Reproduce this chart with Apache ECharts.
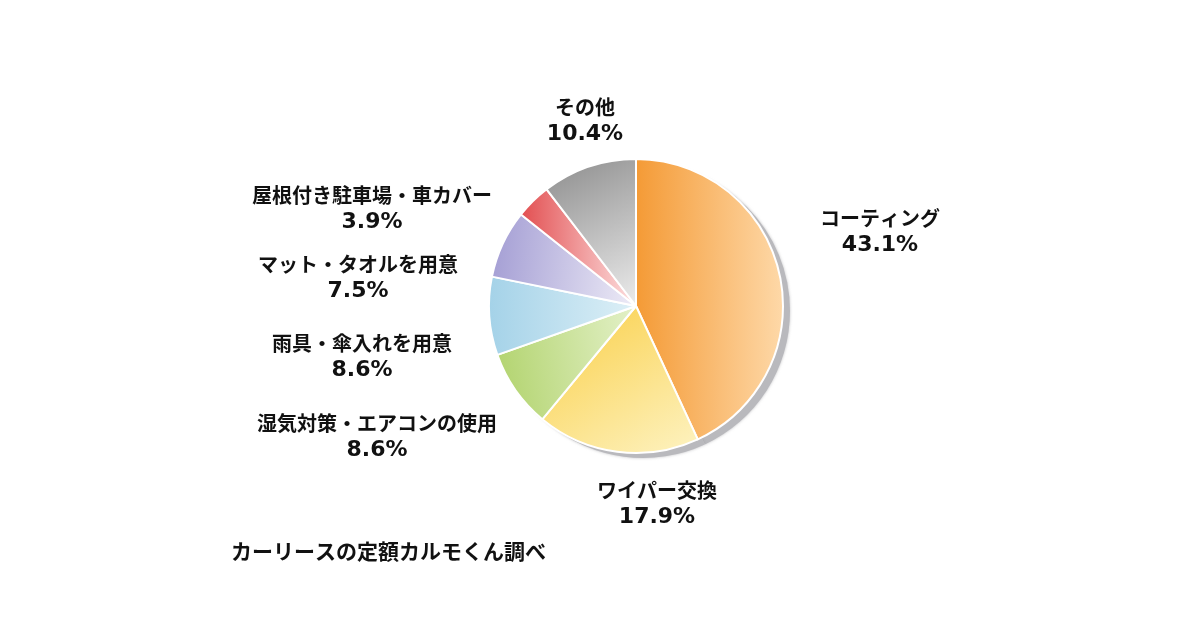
<!DOCTYPE html>
<html>
<head>
<meta charset="utf-8">
<script src="https://cdn.jsdelivr.net/npm/echarts@6/dist/echarts.min.js"></script>
<style>html,body{margin:0;padding:0;background:#fff;}#c{width:1200px;height:641px;}</style>
</head>
<body>
<div id="c"></div>
<script>
const categories = ['コーティング','ワイパー交換','湿気対策・エアコンの使用','雨具・傘入れを用意','マット・タオルを用意','屋根付き駐車場・車カバー','その他'];
const values = [43.1, 17.9, 8.6, 8.6, 7.5, 3.9, 10.4];
const sourceText = 'カーリースの定額カルモくん調べ';

const gradStops = [
  ['#f49a35', '#fed9a9', 0, 0.5, 1, 0.5],
  ['#fad14f', '#fdf0b8', 0.2, 0, 0.8, 1],
  ['#b3d470', '#e2f0c6', 0, 0.5, 1, 0.3],
  ['#a4d2e8', '#def0f7', 0, 0.5, 1, 0.5],
  ['#a49ed4', '#eceaf6', 0, 0.4, 1, 0.6],
  ['#e24e50', '#fde2e2', 0, 0.5, 1, 0.5],
  ['#8c8c8c', '#e8e8e8', 0, 0, 0.8, 1]
];
const labelPos = [
  [880, 232], [657, 504], [377, 437], [362, 357], [358, 278], [372, 209], [585, 121]
];

const chart = echarts.init(document.getElementById('c'));
chart.setOption({
  backgroundColor: '#fff',
  title: {
    text: sourceText, left: 226, top: 536,
    textStyle: {fontFamily: 'Noto Sans CJK JP', fontWeight: 'bold', fontSize: 21, color: '#111'}
  },
  series: [{
    type: 'pie',
    name: 'shadow',
    center: [643, 311],
    radius: [0, 147],
    startAngle: 90,
    clockwise: true,
    animation: false,
    silent: true,
    z: 1,
    data: categories.map((n, i) => ({name: n, value: values[i]})),
    itemStyle: {color: '#b9b9bd', borderWidth: 0, shadowColor: 'rgba(150,150,155,0.6)', shadowBlur: 3},
    label: {show: false},
    labelLine: {show: false},
    emphasis: {disabled: true}
  }, {
    type: 'pie',
    center: [636, 306],
    radius: [0, 147],
    startAngle: 90,
    clockwise: true,
    animation: false,
    z: 2,
    data: categories.map((n, i) => ({
      name: n, value: values[i],
      itemStyle: {
        color: new echarts.graphic.LinearGradient(gradStops[i][2], gradStops[i][3], gradStops[i][4], gradStops[i][5], [
          {offset: 0, color: gradStops[i][0]}, {offset: 1, color: gradStops[i][1]}
        ])
      }
    })),
    itemStyle: {borderColor: '#fff', borderWidth: 2},
    label: {
      show: true, position: 'outside',
      formatter: p => '{n|' + p.name + '}\n{p|' + p.value.toFixed(1) + '%}',
      color: '#111', align: 'center',
      rich: {
        n: {fontFamily: 'Noto Sans CJK JP', fontWeight: 'bold', fontSize: 20, lineHeight: 27, color: '#111', align: 'center'},
        p: {fontFamily: 'DejaVu Sans', fontWeight: 'bold', fontSize: 22, lineHeight: 28, color: '#111', align: 'center'}
      }
    },
    labelLine: {show: false},
    labelLayout: function (params) {
      const p = labelPos[params.dataIndex];
      return {x: p[0], y: p[1], align: 'center', verticalAlign: 'middle'};
    },
    emphasis: {disabled: true}
  }]
});
</script>
</body>
</html>
